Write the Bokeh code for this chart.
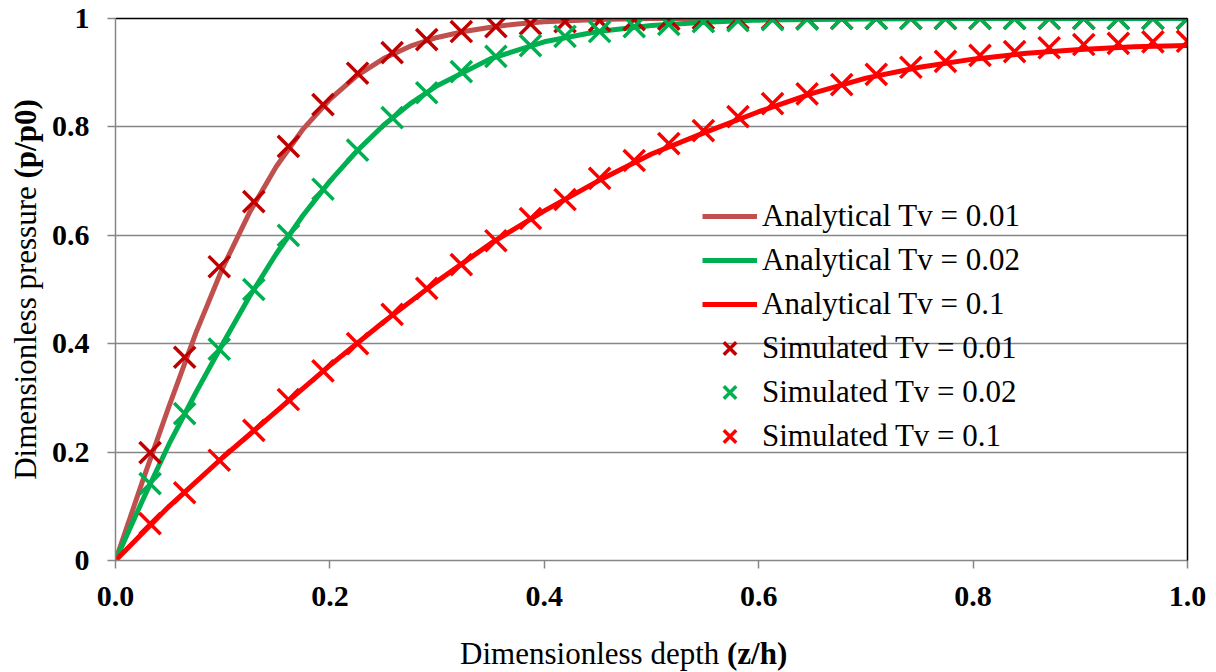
import math
from bokeh.plotting import figure
from bokeh.layouts import row, column
from bokeh.models import (Legend, LegendItem, LinearAxis, FixedTicker,
                          NumeralTickFormatter, Range1d)
from bokeh.core.properties import value
from bokeh.embed import file_html
from bokeh.resources import INLINE

# ---------------- data ----------------
# simulated points at z/h = k/31
sim_z = [k / 31 for k in range(32)]
sim_tv001 = [0, 0.199, 0.375, 0.542, 0.662, 0.764, 0.841, 0.899, 0.937, 0.961,
             0.976, 0.985, 0.990, 0.994, 0.996, 0.998, 0.999, 1.0, 1.0, 1.0,
             1.0, 1.0, 1.0, 1.0, 1.0, 1.0, 1.0, 1.0, 1.0, 1.0, 1.0, 1.0]
sim_tv002 = [0, 0.142, 0.271, 0.390, 0.500, 0.600, 0.685, 0.757, 0.817, 0.863,
             0.902, 0.930, 0.950, 0.967, 0.976, 0.985, 0.989, 0.994, 0.996, 0.998,
             0.999, 1.0, 1.0, 1.0, 1.0, 1.0, 1.0, 1.0, 1.0, 1.0, 1.0, 1.0]
sim_tv01 = [0, 0.068, 0.125, 0.185, 0.240, 0.297, 0.350, 0.400, 0.454, 0.502,
            0.546, 0.590, 0.631, 0.666, 0.705, 0.738, 0.769, 0.793, 0.819, 0.843,
            0.861, 0.878, 0.897, 0.910, 0.921, 0.932, 0.939, 0.946, 0.952, 0.954,
            0.957, 0.958]

# analytical curves
an1_z = [0, 0.025, 0.05, 0.075, 0.1, 0.125, 0.15, 0.175, 0.2, 0.225, 0.25, 0.275,
         0.3, 0.325, 0.35, 0.375, 0.4, 0.45, 0.5, 0.6, 0.8, 1.0]
an1_p = [0, 0.145, 0.285, 0.42, 0.54, 0.642, 0.727, 0.796, 0.851, 0.894, 0.926, 0.949,
         0.965, 0.976, 0.984, 0.99, 0.994, 0.998, 1.0, 1.0, 1.0, 1.0]
an2_z = [0, 0.025, 0.05, 0.075, 0.1, 0.125, 0.15, 0.175, 0.2, 0.225, 0.25, 0.275,
         0.3, 0.35, 0.4, 0.45, 0.5, 0.55, 0.6, 0.7, 0.8, 1.0]
an2_p = [0, 0.11, 0.215, 0.31, 0.40, 0.487, 0.566, 0.637, 0.70, 0.755, 0.803, 0.843,
         0.876, 0.926, 0.957, 0.976, 0.987, 0.993, 0.997, 0.999, 1.0, 1.0]
an3_z = [0, 0.05, 0.1, 0.15, 0.2, 0.25, 0.3, 0.35, 0.4, 0.45, 0.5, 0.55, 0.6, 0.65,
         0.7, 0.75, 0.8, 0.85, 0.9, 0.95, 1.0]
an3_p = [0, 0.10, 0.19, 0.275, 0.36, 0.44, 0.515, 0.585, 0.645, 0.70, 0.75, 0.79,
         0.828, 0.862, 0.89, 0.91, 0.925, 0.936, 0.943, 0.948, 0.95]

x_ticks = [0, 0.2, 0.4, 0.6, 0.8, 1.0]
y_ticks = [0, 0.2, 0.4, 0.6, 0.8, 1.0]

labels = ["Analytical Tv = 0.01", "Analytical Tv = 0.02", "Analytical Tv = 0.1",
          "Simulated Tv = 0.01", "Simulated Tv = 0.02", "Simulated Tv = 0.1"]
x_title = ["Dimensionless depth ", "(z/h)"]
y_title = ["Dimensionless pressure ", "(p/p0)"]
line_colors = ["#C0504D", "#00B050", "#FF0000"]
marker_colors = ["#C00000", "#00B050", "#FF0000"]

FONT = "Liberation Serif"
GRID = "#868686"

# ---------------- main figure ----------------
p = figure(width=1171, height=620, x_range=Range1d(0, 1), y_range=Range1d(0, 1),
           output_backend="svg", toolbar_location=None,
           min_border_left=70, min_border_right=29, min_border_top=18,
           min_border_bottom=60)
p.outline_line_color = None

lines = []
for zz, pp, c in [(an1_z, an1_p, line_colors[0]), (an2_z, an2_p, line_colors[1]),
                  (an3_z, an3_p, line_colors[2])]:
    lines.append(p.line(zz, pp, line_color=c, line_width=5))

marks = []
for vals, c in [(sim_tv001, marker_colors[0]), (sim_tv002, marker_colors[1]),
                (sim_tv01, marker_colors[2])]:
    marks.append(p.scatter(sim_z, vals, marker="x", size=30, line_color=c, line_width=3.5))

p.xaxis.ticker = FixedTicker(ticks=x_ticks)
p.yaxis.ticker = FixedTicker(ticks=y_ticks)
p.xaxis.formatter = NumeralTickFormatter(format="0.0")
p.yaxis.formatter = NumeralTickFormatter(format="0.[0]")
for ax in [p.xaxis[0], p.yaxis[0]]:
    ax.axis_line_color = GRID
    ax.axis_line_width = 1.5
    ax.major_tick_line_color = GRID
    ax.major_tick_line_width = 1.5
    ax.major_tick_out = 8
    ax.major_tick_in = 0
    ax.minor_tick_line_color = None
    ax.major_label_text_font = FONT
    ax.major_label_text_font_style = "bold"
    ax.major_label_text_font_size = "30px"
    ax.major_label_text_color = "black"
p.yaxis.major_label_standoff = 18
p.xaxis.major_label_standoff = 18

p.xgrid.grid_line_color = None
p.ygrid.grid_line_color = GRID
p.ygrid.grid_line_width = 1.5

for loc in ["above", "right"]:
    ax = LinearAxis(ticker=FixedTicker(ticks=[]), axis_line_color="black",
                    axis_line_width=1.5, major_tick_line_color=None,
                    minor_tick_line_color=None, major_label_text_font_size="0px",
                    major_tick_out=0, major_label_standoff=0)
    p.add_layout(ax, loc)

legend = Legend(items=[LegendItem(label=lab, renderers=[r])
                       for lab, r in zip(labels, lines + marks)],
                location=(587, 102), glyph_width=55, glyph_height=44,
                label_height=44, spacing=0, padding=0, margin=0, label_standoff=5,
                background_fill_alpha=0, border_line_alpha=0,
                label_text_font=FONT, label_text_font_size="31px",
                label_text_color="black")
p.add_layout(legend)


def blank(w, h, xr, yr):
    f = figure(width=w, height=h, x_range=Range1d(*xr), y_range=Range1d(*yr),
               output_backend="svg", toolbar_location=None,
               x_axis_type=None, y_axis_type=None, min_border=0)
    f.outline_line_color = None
    f.grid.grid_line_color = None
    return f


# ---------------- y title (left strip) ----------------
yf = blank(45, 672, (0, 45), (0, 672))
yf.text(x=[25], y=[494], text=[y_title[0]], angle=math.pi / 2,
        text_font=value(FONT), text_font_size="31px", text_align="right",
        text_baseline="middle", text_color="black")
yf.text(x=[25], y=[494], text=[y_title[1]], angle=math.pi / 2,
        text_font=value(FONT), text_font_size="31px", text_font_style="bold",
        text_align="left", text_baseline="middle", text_color="black")

# ---------------- x title (bottom strip) ----------------
xf = blank(1171, 52, (0, 1171), (0, 52))
xf.text(x=[668], y=[19], text=[x_title[0]], text_font=value(FONT),
        text_font_size="31px", text_align="right", text_baseline="middle",
        text_color="black")
xf.text(x=[668], y=[19], text=[x_title[1]], text_font=value(FONT),
        text_font_size="31px", text_font_style="bold", text_align="left",
        text_baseline="middle", text_color="black")

layout = row(yf, column(p, xf, spacing=0), spacing=0)
open("out.html", "w").write(file_html(layout, INLINE))
